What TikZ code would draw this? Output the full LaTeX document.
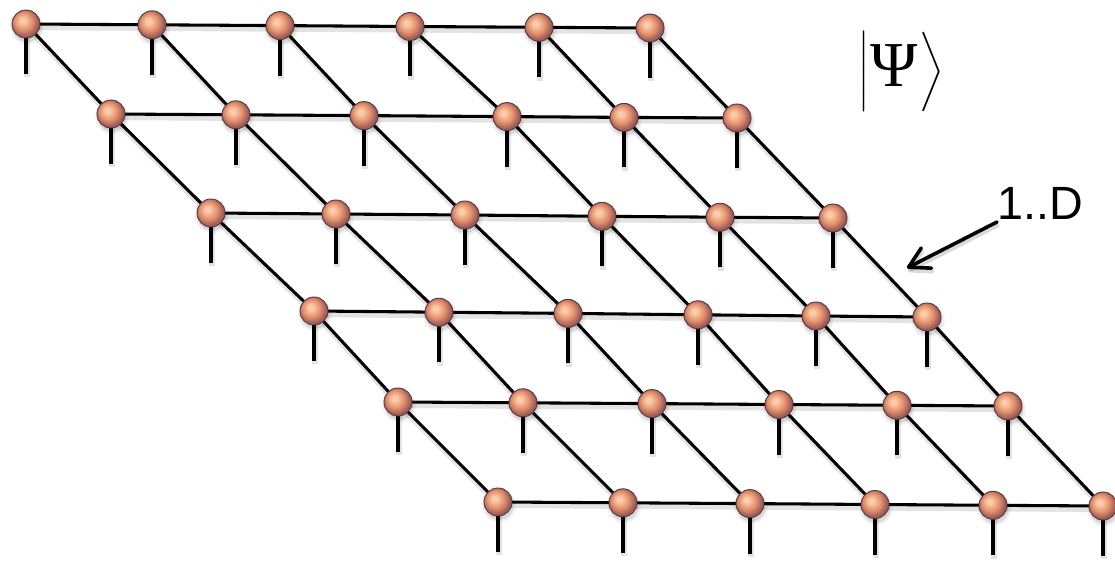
\RequirePackage{fix-cm}
\documentclass[tikz,border=0pt]{standalone}
\usepackage{amsmath}
\usepackage{fontspec}
\newfontfamily\labelfont{Liberation Sans}
\newfontfamily\ketfont{Liberation Serif}
\usetikzlibrary{arrows.meta}

% colours of the tensor spheres
\definecolor{ballhi}{RGB}{252,204,170}
\definecolor{ballmid}{RGB}{226,142,104}
\definecolor{balledge}{RGB}{155,92,90}
\definecolor{ballrim}{RGB}{88,56,66}

% soft sphere shading, lit from the upper left
\pgfdeclareradialshading{tensorball}{\pgfpoint{-7bp}{7bp}}{%
  color(0bp)=(ballhi); color(4bp)=(ballhi); color(16bp)=(ballmid);
  color(25bp)=(balledge); color(50bp)=(balledge)}

\pgfdeclarelayer{shade}
\pgfdeclarelayer{wires}
\pgfsetlayers{shade,wires,main}

\tikzset{
  site/.style={circle, minimum size=21pt, inner sep=0pt, draw=ballrim,
    line width=0.7pt, shade, shading=tensorball},
  bond/.style={line width=2.3pt, black},
  physleg/.style={line width=2.5pt, black},
  bondshadow/.style={line width=4pt, black, opacity=0.11,
    transform canvas={shift={(0.8pt,-2.6pt)}}},
  pointer/.style={line width=2.7pt, black, line cap=round, line join=round,
    -{Straight Barb[length=15pt,width=17pt,round]}},
}

\begin{document}
\begin{tikzpicture}[x=0.75pt,y=-0.75pt]
\useasboundingbox (0,0) rectangle (1115,563);

% lattice sites: row / column / x / y
\foreach \r/\c/\x/\y in {0/0/26/24, 0/1/152/24.8, 0/2/280/25.6, 0/3/410/26.5, 0/4/539/27.3, 0/5/650/28, 1/0/111/114, 1/1/236/114.8, 1/2/364/115.6, 1/3/507/116.6, 1/4/624/117.4, 1/5/737/118, 2/0/211/213, 2/1/336/214, 2/2/465/215, 2/3/602/216.3, 2/4/720/217.2, 2/5/833/218, 3/0/314/311, 3/1/439/312.2, 3/2/568/313.4, 3/3/698/314.8, 3/4/816/316, 3/5/927/317, 4/0/398/402, 4/1/523/402.8, 4/2/652/403.6, 4/3/779/404.5, 4/4/897/405.3, 4/5/1008/406, 5/0/498/502, 5/1/623/502.8, 5/2/750/503.6, 5/3/875/504.5, 5/4/993/505.3, 5/5/1103/506}{%
  \node[site] (n-\r-\c) at (\x,\y) {};
  \coordinate (l-\r-\c) at (\x,\y+50);
}

% drop shadows of the spheres
\begin{pgfonlayer}{shade}
  \foreach \r in {0,...,5}{%
    \foreach \c in {0,...,5}{%
      \fill[black, opacity=0.06] ([shift={(0.8pt,-2.6pt)}]n-\r-\c.center) circle[radius=12.5pt];
      \fill[black, opacity=0.10] ([shift={(0.8pt,-2.6pt)}]n-\r-\c.center) circle[radius=10.8pt];
    }%
  }%
\end{pgfonlayer}

% virtual bonds and physical legs
\begin{pgfonlayer}{wires}
  \foreach \r in {0,...,5}{%
    \foreach \c/\d in {0/1,1/2,2/3,3/4,4/5}{%
      \draw[bondshadow] (n-\r-\c.center) -- (n-\r-\d.center);
      \draw[bond] (n-\r-\c.center) -- (n-\r-\d.center);
    }%
  }%
  \foreach \r/\s in {0/1,1/2,2/3,3/4,4/5}{%
    \foreach \c in {0,...,5}{%
      \draw[bondshadow] (n-\r-\c.center) -- (n-\s-\c.center);
      \draw[bond] (n-\r-\c.center) -- (n-\s-\c.center);
    }%
  }%
  \foreach \r in {0,...,5}{%
    \foreach \c in {0,...,5}{%
      \draw[bondshadow] (n-\r-\c.center) -- (l-\r-\c);
      \draw[physleg] (n-\r-\c.center) -- (l-\r-\c);
    }%
  }%
\end{pgfonlayer}

% state label
\node[anchor=base, inner sep=0pt] (psi) at (901,87)
  {\fontsize{46}{63}\selectfont$\bigl|$\kern1pt{\ketfont\fontsize{48}{60}\selectfont Ψ}\kern1pt$\bigr\rangle$};

% bond dimension label and its pointer
\node[anchor=base west, inner sep=0pt,
      font=\labelfont\fontsize{35}{42}\selectfont] (dimlabel) at (997,220) {1..D};
\coordinate (ptr-tail) at (997,222);
\coordinate (ptr-tip) at (907,268);
\draw[pointer, opacity=0.15, transform canvas={shift={(0.8pt,-2.6pt)}}] (ptr-tail) -- (ptr-tip);
\draw[pointer] (ptr-tail) -- (ptr-tip);
\end{tikzpicture}
\end{document}
